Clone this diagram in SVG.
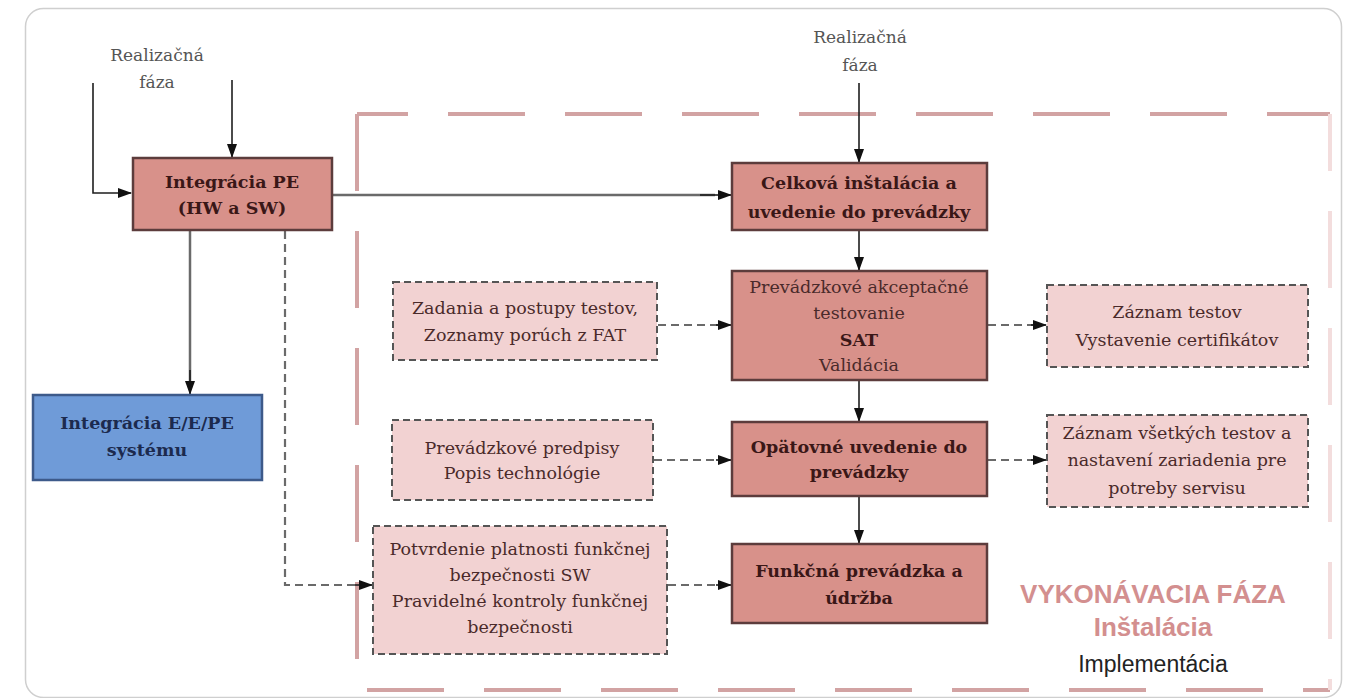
<svg xmlns="http://www.w3.org/2000/svg" width="1354" height="698" viewBox="0 0 1354 698">
  <style>
    .frame { fill: #ffffff; stroke: #cfcfcf; stroke-width: 1.5; }
    .phase { fill: none; stroke: #d2a3a3; stroke-width: 4; stroke-dasharray: 77 40; }
    .phase-faint { fill: none; stroke: #f3dddd; stroke-width: 4; stroke-dasharray: 77 40; }
    .main { fill: #d8918a; stroke: #5c3c3c; stroke-width: 2.5; }
    .side { fill: #f2d2d2; stroke: #555555; stroke-width: 2; stroke-dasharray: 7 4; }
    .blue { fill: #6f9bd8; stroke: #3d5a8a; stroke-width: 2.5; }
    .t { font-family: "DejaVu Serif", "Liberation Serif", serif; font-size: 17.5px; text-anchor: middle; }
    .tb { font-weight: bold; fill: #3a1717; }
    .tr { fill: #4a2a2a; }
    .tblue { font-weight: bold; fill: #1c2a4e; }
    .lbl { font-family: "DejaVu Serif", "Liberation Serif", serif; font-size: 17px; fill: #555555; text-anchor: middle; }
    .solid { fill: none; stroke: #1e1e1e; stroke-width: 1.6; }
    .grey { fill: none; stroke: #6a6a6a; stroke-width: 2.5; }
    .dash { fill: none; stroke: #6a6a6a; stroke-width: 2.2; stroke-dasharray: 8 5; }
    .sans { font-family: "Liberation Sans", Arial, sans-serif; text-anchor: middle; }
  </style>
  <defs>
    <marker id="arrow" markerWidth="14" markerHeight="10" refX="13" refY="5" orient="auto" markerUnits="userSpaceOnUse">
      <path d="M0,0 L14,5 L0,10 Z" fill="#111111"/>
    </marker>
  </defs>

  <!-- card frame -->
  <rect class="frame" x="25.5" y="8.5" width="1316" height="689" rx="18"/>

  <!-- execution phase boundary -->
  <g id="phase-boundary">
    <line class="phase" x1="357" y1="114" x2="1330" y2="114" stroke-dashoffset="26"/>
    <line class="phase" x1="357" y1="114" x2="357" y2="690"/>
    <line class="phase" x1="357" y1="690" x2="1330" y2="690" stroke-dashoffset="107"/>
    <line class="phase-faint" x1="1330" y1="114" x2="1330" y2="690" stroke-dashoffset="20"/>
  </g>

  <!-- connectors -->
  <g id="connectors">
    <path class="solid" d="M93,83 V193 H131" marker-end="url(#arrow)"/>
    <path class="solid" d="M232,80 V157" marker-end="url(#arrow)"/>
    <path class="solid" d="M859,83 V162" marker-end="url(#arrow)"/>
    <path class="grey" d="M333,195 H715"/>
    <path class="solid" d="M700,195 H731" marker-end="url(#arrow)"/>
    <path class="grey" d="M190,231 V382"/>
    <path class="solid" d="M190,370 V394" marker-end="url(#arrow)"/>
    <path class="dash" d="M285,231 V585 H360"/>
    <path class="solid" d="M355,585 H372" marker-end="url(#arrow)"/>
    <path class="solid" d="M859,231 V270" marker-end="url(#arrow)"/>
    <path class="solid" d="M859,381 V421" marker-end="url(#arrow)"/>
    <path class="solid" d="M859,497 V543" marker-end="url(#arrow)"/>
    <path class="dash" d="M658,325 H720"/>
    <path class="solid" d="M716,325 H731" marker-end="url(#arrow)"/>
    <path class="dash" d="M988,325 H1035"/>
    <path class="solid" d="M1031,325 H1046" marker-end="url(#arrow)"/>
    <path class="dash" d="M654,460 H720"/>
    <path class="solid" d="M716,460 H731" marker-end="url(#arrow)"/>
    <path class="dash" d="M988,460 H1035"/>
    <path class="solid" d="M1031,460 H1046" marker-end="url(#arrow)"/>
    <path class="dash" d="M668,585 H720"/>
    <path class="solid" d="M716,585 H731" marker-end="url(#arrow)"/>
  </g>

  <!-- phase inputs -->
  <g id="input-left">
    <text class="lbl" x="157" y="61">Realizačná</text>
    <text class="lbl" x="157" y="88">fáza</text>
  </g>
  <g id="input-center">
    <text class="lbl" x="860" y="43">Realizačná</text>
    <text class="lbl" x="860" y="71">fáza</text>
  </g>

  <g id="integracia-pe">
    <rect class="main" x="133" y="158" width="199" height="72"/>
    <text class="t tb" x="232" y="188">Integrácia PE</text>
    <text class="t tb" x="232" y="214">(HW a SW)</text>
  </g>

  <g id="integracia-system">
    <rect class="blue" x="33" y="395" width="229" height="85"/>
    <text class="t tblue" x="147" y="429">Integrácia E/E/PE</text>
    <text class="t tblue" x="147" y="456">systému</text>
  </g>

  <g id="celkova-instalacia">
    <rect class="main" x="732" y="163" width="255" height="67"/>
    <text class="t tb" x="859" y="189">Celková inštalácia a</text>
    <text class="t tb" x="859" y="218">uvedenie do prevádzky</text>
  </g>

  <g id="sat">
    <rect class="main" x="732" y="271" width="255" height="109"/>
    <text class="t tr" x="859" y="293">Prevádzkové akceptačné</text>
    <text class="t tr" x="859" y="319">testovanie</text>
    <text class="t tb" x="859" y="346">SAT</text>
    <text class="t tr" x="859" y="371">Validácia</text>
  </g>

  <g id="opatovne-uvedenie">
    <rect class="main" x="732" y="422" width="255" height="74"/>
    <text class="t tb" x="859" y="453">Opätovné uvedenie do</text>
    <text class="t tb" x="859" y="478">prevádzky</text>
  </g>

  <g id="funkcna-prevadzka">
    <rect class="main" x="732" y="544" width="255" height="79"/>
    <text class="t tb" x="859" y="577">Funkčná prevádzka a</text>
    <text class="t tb" x="859" y="604">údržba</text>
  </g>

  <g id="zadania-testov">
    <rect class="side" x="393" y="282" width="264" height="78"/>
    <text class="t tr" x="525" y="314">Zadania a postupy testov,</text>
    <text class="t tr" x="525" y="341">Zoznamy porúch z FAT</text>
  </g>

  <g id="prevadzkove-predpisy">
    <rect class="side" x="392" y="420" width="261" height="80"/>
    <text class="t tr" x="522" y="454">Prevádzkové predpisy</text>
    <text class="t tr" x="522" y="479">Popis technológie</text>
  </g>

  <g id="potvrdenie-platnosti">
    <rect class="side" x="373" y="526" width="294" height="128"/>
    <text class="t tr" x="520" y="555">Potvrdenie platnosti funkčnej</text>
    <text class="t tr" x="520" y="581">bezpečnosti SW</text>
    <text class="t tr" x="520" y="607">Pravidelné kontroly funkčnej</text>
    <text class="t tr" x="520" y="633">bezpečnosti</text>
  </g>

  <g id="zaznam-testov">
    <rect class="side" x="1047" y="285" width="261" height="82"/>
    <text class="t tr" x="1177" y="318">Záznam testov</text>
    <text class="t tr" x="1177" y="346">Vystavenie certifikátov</text>
  </g>

  <g id="zaznam-vsetkych">
    <rect class="side" x="1047" y="415" width="261" height="92"/>
    <text class="t tr" x="1177" y="439">Záznam všetkých testov a</text>
    <text class="t tr" x="1177" y="466">nastavení zariadenia pre</text>
    <text class="t tr" x="1177" y="494">potreby servisu</text>
  </g>

  <!-- phase caption -->
  <g id="phase-caption">
    <text class="sans" x="1153" y="603" font-size="26" font-weight="bold" fill="#d38f8f">VYKONÁVACIA FÁZA</text>
    <text class="sans" x="1153" y="636" font-size="26" font-weight="bold" fill="#d38f8f">Inštalácia</text>
    <text class="sans" x="1153" y="672" font-size="23" fill="#222222">Implementácia</text>
  </g>
</svg>
